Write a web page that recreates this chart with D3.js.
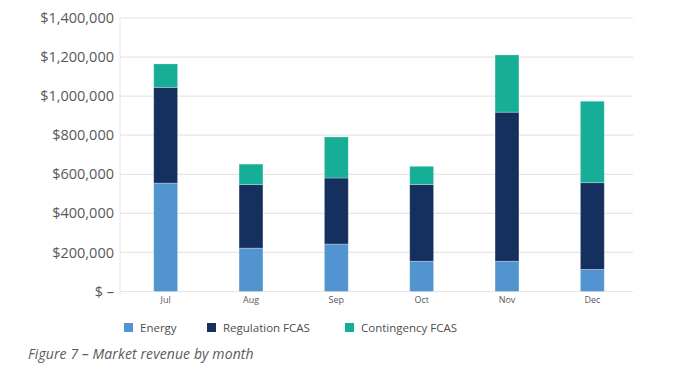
<!DOCTYPE html>
<html lang="en">
<head>
<meta charset="UTF-8">
<title>Market revenue by month</title>
<script src="https://d3js.org/d3.v7.min.js"></script>
<style>
    body {
        margin: 0;
        background-color: #fff;
        font-family: "Open Sans", sans-serif;
    }
    .tick text {
        fill: #595959;
    }
    .legendLabel {
        font-size: 11.5px;
        fill: #4d4d4d;
    }
    .caption {
        font-size: 14px;
        font-style: italic;
        fill: #5a5a5a;
        letter-spacing: 0.1px;
    }
</style>
</head>
<body>
<script>
    const width = 700;
    const height = 371;

    // data
    const months = ["Jul", "Aug", "Sep", "Oct", "Nov", "Dec"];
    const energy = [555000, 222000, 243000, 155000, 155000, 113000];
    const regulation = [490000, 325000, 338000, 393000, 763000, 444000];
    const contingency = [120000, 105000, 210000, 93000, 293000, 417000];
    const seriesNames = ["Energy", "Regulation FCAS", "Contingency FCAS"];
    const colors = ["#5294cf", "#15305e", "#16ae96"];
    const yTicks = [0, 200000, 400000, 600000, 800000, 1000000, 1200000, 1400000];

    const rows = months.map((m, i) => ({
        month: m,
        "Energy": energy[i],
        "Regulation FCAS": regulation[i],
        "Contingency FCAS": contingency[i]
    }));

    const svg = d3.select("body").append("svg")
        .attr("width", width)
        .attr("height", height);

    const x = d3.scaleBand()
        .domain(months)
        .range([123, 635])
        .paddingInner(0.72)
        .paddingOuter(0.36);

    const y = d3.scaleLinear()
        .domain([0, 1400000])
        .range([291.5, 18]);

    // gridlines
    svg.append("g")
        .selectAll("line")
        .data(yTicks)
        .join("line")
        .attr("x1", 120)
        .attr("x2", 633)
        .attr("y1", d => y(d))
        .attr("y2", d => y(d))
        .attr("stroke", "#e6e6e6")
        .attr("stroke-width", 1.2);

    svg.append("line")
        .attr("x1", 120).attr("x2", 120)
        .attr("y1", 17).attr("y2", 295)
        .attr("stroke", "#e6e6e6");

    // y axis labels
    const fmt = d => d === 0 ? "$ \u2013" : "$" + d3.format(",")(d);
    const yAxis = svg.append("g")
        .attr("transform", "translate(114,0)")
        .call(d3.axisLeft(y).tickValues(yTicks).tickFormat(fmt).tickSize(0).tickPadding(0));
    yAxis.select(".domain").remove();
    yAxis.selectAll("text").attr("font-size", 14.5).attr("font-family", "Open Sans, sans-serif");

    // x axis labels
    const xAxis = svg.append("g")
        .attr("transform", "translate(0,297)")
        .call(d3.axisBottom(x).tickSize(0).tickPadding(0));
    xAxis.select(".domain").remove();
    xAxis.selectAll("text").attr("font-size", 9).attr("dy", "0.71em").attr("font-family", "Open Sans, sans-serif");

    // stacked bars
    const stack = d3.stack().keys(seriesNames)(rows);
    svg.append("g")
        .selectAll("g")
        .data(stack)
        .join("g")
        .attr("fill", (d, i) => colors[i])
        .selectAll("rect")
        .data(d => d)
        .join("rect")
        .attr("x", d => x(d.data.month))
        .attr("width", x.bandwidth())
        .attr("y", d => y(d[1]))
        .attr("height", d => y(d[0]) - y(d[1]))
        .attr("stroke", "#ffffff")
        .attr("stroke-opacity", 0.35)
        .attr("stroke-width", 0.8);

    // legend
    const legendX = [124, 207, 345];
    const legend = svg.append("g");
    seriesNames.forEach((name, i) => {
        legend.append("rect")
            .attr("x", legendX[i])
            .attr("y", 323)
            .attr("width", 9)
            .attr("height", 9)
            .attr("fill", colors[i]);
        legend.append("text")
            .attr("x", legendX[i] + 16)
            .attr("y", 327.5)
            .attr("dy", "0.35em")
            .attr("class", "legendLabel")
            .text(name);
    });

    svg.append("text")
        .attr("x", 28)
        .attr("y", 359)
        .attr("class", "caption")
        .text("Figure 7 \u2013 Market revenue by month");
</script>
</body>
</html>
